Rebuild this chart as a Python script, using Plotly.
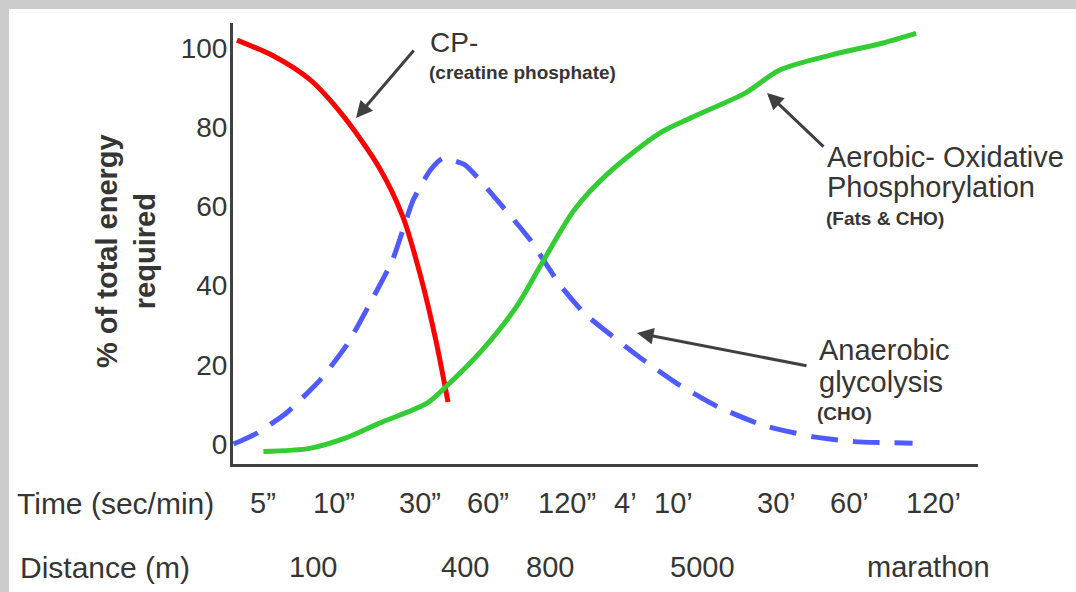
import plotly.graph_objects as go

# ---------------- data ----------------
# x is a positional (unlabelled) time scale; y is % of total energy required
cp_x = [237, 275, 310, 344, 379, 403, 421, 436, 448]
cp_y = [102.0, 97.8, 92.0, 82.6, 69.9, 57.3, 42.0, 26.0, 10.6]

gly_x = [233.5, 256.5, 285.8, 320.2, 347.8, 371.9, 392.6, 413.2, 430.4, 442.5,
         464.9, 502.8, 530.3, 560.5, 584.4, 639.1, 676.8, 717.8, 762.2, 813.5,
         854.5, 912.6]
gly_y = [0.0, 2.7, 7.7, 16.2, 25.4, 36.4, 46.5, 61.6, 69.2, 72.1,
         70.5, 59.9, 51.5, 40.0, 33.0, 22.0, 15.3, 9.4, 4.8, 1.8,
         0.6, 0.2]

aer_x = [263.4, 309.9, 344.4, 378.8, 427.0, 447.7, 482.1, 516.5, 540.0, 574.2,
         608.4, 659.7, 693.8, 745.1, 779.3, 830.6, 881.9, 916.1]
aer_y = [-1.9, -1.1, 1.4, 5.2, 10.3, 14.9, 23.7, 34.7, 44.8, 59.1,
         68.4, 78.5, 82.7, 88.6, 94.4, 98.2, 101.2, 103.7]

y_ticks = [0, 20, 40, 60, 80, 100]

time_labels = ['5”', '10”', '30”', '60”', '120”', '4’', '10’', '30’', '60’', '120’']
time_pos = [263, 334, 420, 488, 567, 625, 673, 776, 849, 933]

dist_labels = ['100', '400', '800', '5000', 'marathon']
dist_pos = [313, 465, 550, 702, 928]

# ---------------- layout helpers ----------------
W, H = 1076, 592
L, R, T, B = 233, 978, 23, 464          # plot area in page pixels
X_RANGE = [233, 978]
Y_RANGE = [(444 - 464) / 3.96, (444 - 23) / 3.96]


def px_to_paper_x(px):
    return (px - L) / (R - L)


def px_to_paper_y(py):
    return (B - py) / (B - T)


def py_to_val(py):
    return (444 - py) / 3.96


FONT = "Liberation Sans, Arial, sans-serif"
TXT = "#353535"

fig = go.Figure()

fig.add_trace(go.Scatter(x=cp_x, y=cp_y, mode="lines",
                         line=dict(color="#ff0000", width=5, shape="spline", smoothing=0.8),
                         name="CP", hoverinfo="skip"))
fig.add_trace(go.Scatter(x=gly_x, y=gly_y, mode="lines",
                         line=dict(color="#4f5bff", width=5, dash="27px,15px",
                                   shape="spline", smoothing=0.5),
                         name="Anaerobic glycolysis", hoverinfo="skip"))
fig.add_trace(go.Scatter(x=aer_x, y=aer_y, mode="lines",
                         line=dict(color="#33cc33", width=5, shape="spline", smoothing=0.8),
                         name="Aerobic", hoverinfo="skip"))

ann = []

# time and distance rows
ann.append(dict(text="Time (sec/min)", x=px_to_paper_x(15), y=px_to_paper_y(503),
                xref="paper", yref="paper", xanchor="left", yanchor="middle",
                showarrow=False, font=dict(family=FONT, size=30, color=TXT)))
for lab, p in zip(time_labels, time_pos):
    ann.append(dict(text=lab, x=p, y=px_to_paper_y(503), xref="x", yref="paper",
                    xanchor="center", yanchor="middle", showarrow=False,
                    font=dict(family=FONT, size=29, color=TXT)))
ann.append(dict(text="Distance (m)", x=px_to_paper_x(18), y=px_to_paper_y(567),
                xref="paper", yref="paper", xanchor="left", yanchor="middle",
                showarrow=False, font=dict(family=FONT, size=30, color=TXT)))
for lab, p in zip(dist_labels, dist_pos):
    ann.append(dict(text=lab, x=p, y=px_to_paper_y(567), xref="x", yref="paper",
                    xanchor="center", yanchor="middle", showarrow=False,
                    font=dict(family=FONT, size=29, color=TXT)))

# y-axis title
ann.append(dict(text="<b>% of total energy<br>required</b>", x=px_to_paper_x(126),
                y=px_to_paper_y(251), xref="paper", yref="paper",
                xanchor="center", yanchor="middle", textangle=-90, showarrow=False,
                font=dict(family=FONT, size=29, color=TXT)))

# curve labels
def label(text, px, py, size=29, bold=False):
    t = f"<b>{text}</b>" if bold else text
    return dict(text=t, x=px, y=py_to_val(py), xref="x", yref="y",
                xanchor="left", yanchor="middle", showarrow=False,
                font=dict(family=FONT, size=size, color=TXT))


ann.append(label("CP-", 428, 42, 28))
ann.append(label("(creatine phosphate)", 427, 72, 19, True))
ann.append(label("Aerobic- Oxidative", 825, 157, 29))
ann.append(label("Phosphorylation", 825, 187, 29))
ann.append(label("(Fats &amp; CHO)", 824, 218, 19, True))
ann.append(label("Anaerobic", 817, 350, 29))
ann.append(label("glycolysis", 817, 382, 29))
ann.append(label("(CHO)", 815, 413, 19, True))

# arrows (head position, tail offset in px)
def arrow(hx, hy, tx, ty):
    return dict(text="", x=hx, y=py_to_val(hy), xref="x", yref="y",
                ax=tx - hx, ay=ty - hy, axref="pixel", ayref="pixel",
                showarrow=True, arrowhead=2, arrowsize=1.1, arrowwidth=3,
                arrowcolor="#404040", standoff=0, startstandoff=0)


ann.append(arrow(356, 118, 415, 49))
ann.append(arrow(767, 93, 825, 148))
ann.append(arrow(637, 333, 808, 366))

shapes = [
    dict(type="rect", xref="paper", yref="paper",
         x0=px_to_paper_x(0), x1=px_to_paper_x(W), y0=px_to_paper_y(9), y1=px_to_paper_y(0),
         fillcolor="#cccccc", line=dict(width=0), layer="below"),
    dict(type="rect", xref="paper", yref="paper",
         x0=px_to_paper_x(0), x1=px_to_paper_x(9), y0=px_to_paper_y(H), y1=px_to_paper_y(0),
         fillcolor="#cccccc", line=dict(width=0), layer="below"),
]

fig.update_layout(
    width=W, height=H,
    margin=dict(l=L, r=W - R, t=T, b=H - B, pad=0),
    paper_bgcolor="white", plot_bgcolor="white",
    showlegend=False,
    xaxis=dict(range=X_RANGE, showgrid=False, zeroline=False, showticklabels=False,
               ticks="", showline=True, linecolor="#404040", linewidth=3, fixedrange=True),
    yaxis=dict(range=Y_RANGE, showgrid=False, zeroline=False, tickmode="array",
               tickvals=y_ticks, ticktext=[str(v) for v in y_ticks], ticks="",
               tickfont=dict(family=FONT, size=28, color=TXT), ticklabelstandoff=-3,
               showline=True, linecolor="#404040", linewidth=3, fixedrange=True),
    annotations=ann,
    shapes=shapes,
)

fig.write_html("out.html", config={"displayModeBar": False},
               post_script="document.body.style.margin='0';document.body.style.overflow='hidden';")
